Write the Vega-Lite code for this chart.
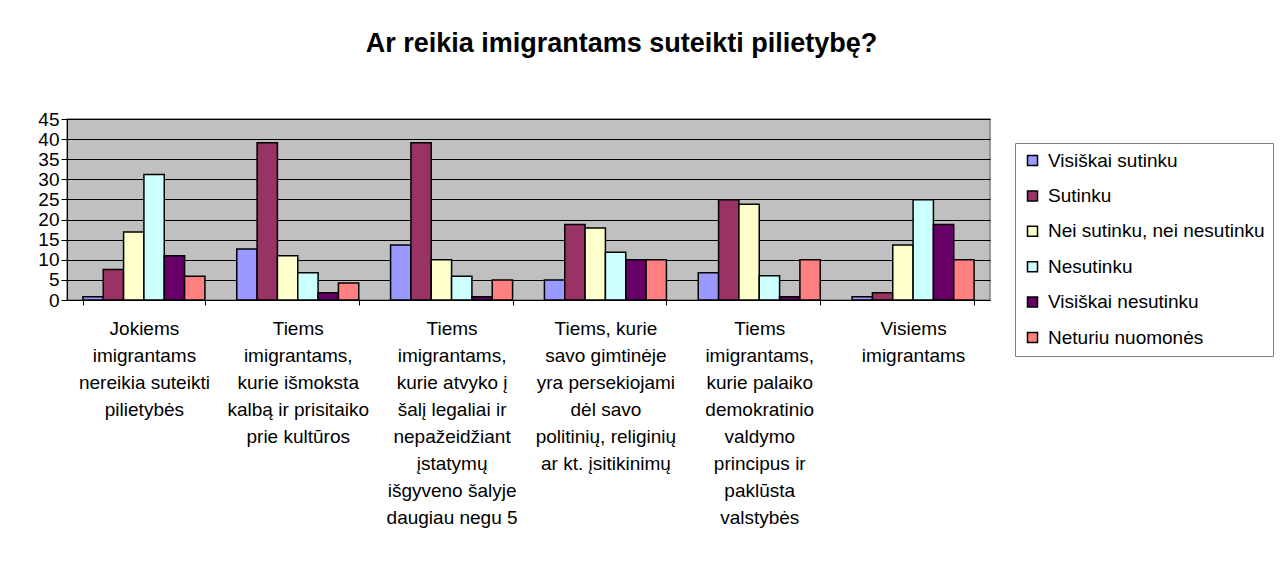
{
  "$schema": "https://vega.github.io/schema/vega-lite/v6.json",
  "autosize": {"type": "none"},
  "padding": {"left": 67, "top": 119, "right": 291, "bottom": 261},
  "width": 923,
  "height": 181,
  "background": "white",
  "title": {
    "text": "Ar reikia imigrantams suteikti pilietybę?",
    "font": "Liberation Sans",
    "fontSize": 27,
    "fontWeight": "bold",
    "color": "black",
    "anchor": "middle",
    "frame": "group",
    "dx": 93,
    "baseline": "alphabetic",
    "offset": 31
  },
  "data": {
    "values": [
      {"kategorija": "Jokiems\nimigrantams\nnereikia suteikti\npilietybės", "atsakymas": "Visiškai sutinku", "reiksme": 0.8},
      {"kategorija": "Jokiems\nimigrantams\nnereikia suteikti\npilietybės", "atsakymas": "Sutinku", "reiksme": 7.6},
      {"kategorija": "Jokiems\nimigrantams\nnereikia suteikti\npilietybės", "atsakymas": "Nei sutinku, nei nesutinku", "reiksme": 16.9},
      {"kategorija": "Jokiems\nimigrantams\nnereikia suteikti\npilietybės", "atsakymas": "Nesutinku", "reiksme": 31.2},
      {"kategorija": "Jokiems\nimigrantams\nnereikia suteikti\npilietybės", "atsakymas": "Visiškai nesutinku", "reiksme": 11.0},
      {"kategorija": "Jokiems\nimigrantams\nnereikia suteikti\npilietybės", "atsakymas": "Neturiu nuomonės", "reiksme": 5.9},
      {"kategorija": "Tiems\nimigrantams,\nkurie išmoksta\nkalbą ir prisitaiko\nprie kultūros", "atsakymas": "Visiškai sutinku", "reiksme": 12.7},
      {"kategorija": "Tiems\nimigrantams,\nkurie išmoksta\nkalbą ir prisitaiko\nprie kultūros", "atsakymas": "Sutinku", "reiksme": 39.1},
      {"kategorija": "Tiems\nimigrantams,\nkurie išmoksta\nkalbą ir prisitaiko\nprie kultūros", "atsakymas": "Nei sutinku, nei nesutinku", "reiksme": 11.0},
      {"kategorija": "Tiems\nimigrantams,\nkurie išmoksta\nkalbą ir prisitaiko\nprie kultūros", "atsakymas": "Nesutinku", "reiksme": 6.8},
      {"kategorija": "Tiems\nimigrantams,\nkurie išmoksta\nkalbą ir prisitaiko\nprie kultūros", "atsakymas": "Visiškai nesutinku", "reiksme": 1.8},
      {"kategorija": "Tiems\nimigrantams,\nkurie išmoksta\nkalbą ir prisitaiko\nprie kultūros", "atsakymas": "Neturiu nuomonės", "reiksme": 4.2},
      {"kategorija": "Tiems\nimigrantams,\nkurie atvyko į\nšalį legaliai ir\nnepažeidžiant\nįstatymų\nišgyveno šalyje\ndaugiau negu 5", "atsakymas": "Visiškai sutinku", "reiksme": 13.7},
      {"kategorija": "Tiems\nimigrantams,\nkurie atvyko į\nšalį legaliai ir\nnepažeidžiant\nįstatymų\nišgyveno šalyje\ndaugiau negu 5", "atsakymas": "Sutinku", "reiksme": 39.1},
      {"kategorija": "Tiems\nimigrantams,\nkurie atvyko į\nšalį legaliai ir\nnepažeidžiant\nįstatymų\nišgyveno šalyje\ndaugiau negu 5", "atsakymas": "Nei sutinku, nei nesutinku", "reiksme": 10.0},
      {"kategorija": "Tiems\nimigrantams,\nkurie atvyko į\nšalį legaliai ir\nnepažeidžiant\nįstatymų\nišgyveno šalyje\ndaugiau negu 5", "atsakymas": "Nesutinku", "reiksme": 5.9},
      {"kategorija": "Tiems\nimigrantams,\nkurie atvyko į\nšalį legaliai ir\nnepažeidžiant\nįstatymų\nišgyveno šalyje\ndaugiau negu 5", "atsakymas": "Visiškai nesutinku", "reiksme": 0.8},
      {"kategorija": "Tiems\nimigrantams,\nkurie atvyko į\nšalį legaliai ir\nnepažeidžiant\nįstatymų\nišgyveno šalyje\ndaugiau negu 5", "atsakymas": "Neturiu nuomonės", "reiksme": 5.0},
      {"kategorija": "Tiems, kurie\nsavo gimtinėje\nyra persekiojami\ndėl savo\npolitinių, religinių\nar kt. įsitikinimų", "atsakymas": "Visiškai sutinku", "reiksme": 5.0},
      {"kategorija": "Tiems, kurie\nsavo gimtinėje\nyra persekiojami\ndėl savo\npolitinių, religinių\nar kt. įsitikinimų", "atsakymas": "Sutinku", "reiksme": 18.8},
      {"kategorija": "Tiems, kurie\nsavo gimtinėje\nyra persekiojami\ndėl savo\npolitinių, religinių\nar kt. įsitikinimų", "atsakymas": "Nei sutinku, nei nesutinku", "reiksme": 17.9},
      {"kategorija": "Tiems, kurie\nsavo gimtinėje\nyra persekiojami\ndėl savo\npolitinių, religinių\nar kt. įsitikinimų", "atsakymas": "Nesutinku", "reiksme": 11.9},
      {"kategorija": "Tiems, kurie\nsavo gimtinėje\nyra persekiojami\ndėl savo\npolitinių, religinių\nar kt. įsitikinimų", "atsakymas": "Visiškai nesutinku", "reiksme": 10.0},
      {"kategorija": "Tiems, kurie\nsavo gimtinėje\nyra persekiojami\ndėl savo\npolitinių, religinių\nar kt. įsitikinimų", "atsakymas": "Neturiu nuomonės", "reiksme": 10.0},
      {"kategorija": "Tiems\nimigrantams,\nkurie palaiko\ndemokratinio\nvaldymo\nprincipus ir\npaklūsta\nvalstybės", "atsakymas": "Visiškai sutinku", "reiksme": 6.8},
      {"kategorija": "Tiems\nimigrantams,\nkurie palaiko\ndemokratinio\nvaldymo\nprincipus ir\npaklūsta\nvalstybės", "atsakymas": "Sutinku", "reiksme": 24.9},
      {"kategorija": "Tiems\nimigrantams,\nkurie palaiko\ndemokratinio\nvaldymo\nprincipus ir\npaklūsta\nvalstybės", "atsakymas": "Nei sutinku, nei nesutinku", "reiksme": 23.8},
      {"kategorija": "Tiems\nimigrantams,\nkurie palaiko\ndemokratinio\nvaldymo\nprincipus ir\npaklūsta\nvalstybės", "atsakymas": "Nesutinku", "reiksme": 6.0},
      {"kategorija": "Tiems\nimigrantams,\nkurie palaiko\ndemokratinio\nvaldymo\nprincipus ir\npaklūsta\nvalstybės", "atsakymas": "Visiškai nesutinku", "reiksme": 0.8},
      {"kategorija": "Tiems\nimigrantams,\nkurie palaiko\ndemokratinio\nvaldymo\nprincipus ir\npaklūsta\nvalstybės", "atsakymas": "Neturiu nuomonės", "reiksme": 10.0},
      {"kategorija": "Visiems\nimigrantams", "atsakymas": "Visiškai sutinku", "reiksme": 0.8},
      {"kategorija": "Visiems\nimigrantams", "atsakymas": "Sutinku", "reiksme": 1.8},
      {"kategorija": "Visiems\nimigrantams", "atsakymas": "Nei sutinku, nei nesutinku", "reiksme": 13.7},
      {"kategorija": "Visiems\nimigrantams", "atsakymas": "Nesutinku", "reiksme": 24.9},
      {"kategorija": "Visiems\nimigrantams", "atsakymas": "Visiškai nesutinku", "reiksme": 18.8},
      {"kategorija": "Visiems\nimigrantams", "atsakymas": "Neturiu nuomonės", "reiksme": 10.0}
    ]
  },
  "mark": {"type": "bar", "stroke": "black", "strokeWidth": 1.5, "opacity": 1},
  "encoding": {
    "x": {
      "field": "kategorija",
      "type": "nominal",
      "sort": null,
      "scale": {"paddingInner": 0.207, "paddingOuter": 0.1035},
      "axis": {
        "title": null,
        "labelAngle": 0,
        "labelExpr": "split(datum.label, '\\n')",
        "labelFont": "Liberation Sans",
        "labelFontSize": 19,
        "labelLineHeight": 27,
        "labelColor": "black",
        "labelBaseline": "top",
        "labelPadding": 14,
        "labelLimit": 300,
        "tickBand": "extent",
        "tickColor": "black",
        "tickSize": 5,
        "domainColor": "black",
        "domainWidth": 1,
        "grid": false
      }
    },
    "xOffset": {"field": "atsakymas", "type": "nominal", "sort": null, "scale": {"paddingInner": 0, "paddingOuter": 0}},
    "y": {
      "field": "reiksme",
      "type": "quantitative",
      "scale": {"domain": [0, 45], "nice": false},
      "axis": {
        "title": null,
        "values": [0, 5, 10, 15, 20, 25, 30, 35, 40, 45],
        "labelFont": "Liberation Sans",
        "labelFontSize": 19,
        "labelColor": "black",
        "labelPadding": 2,
        "tickColor": "black",
        "tickSize": 6,
        "domainColor": "black",
        "gridColor": "black",
        "gridWidth": 1,
        "gridOpacity": 1
      }
    },
    "color": {
      "field": "atsakymas",
      "type": "nominal",
      "sort": null,
      "scale": {
        "domain": ["Visiškai sutinku", "Sutinku", "Nei sutinku, nei nesutinku", "Nesutinku", "Visiškai nesutinku", "Neturiu nuomonės"],
        "range": ["#9999FF", "#993366", "#FFFFCC", "#CCFFFF", "#660066", "#FF8080"]
      },
      "legend": {
        "title": null,
        "orient": "none",
        "legendX": 948,
        "legendY": 24,
        "strokeColor": "#808080",
        "fillColor": "white",
        "padding": 8,
        "rowPadding": 15.4,
        "symbolType": "square",
        "symbolSize": 100,
        "symbolStrokeColor": "black",
        "symbolStrokeWidth": 1.5,
        "symbolOpacity": 1,
        "labelFont": "Liberation Sans",
        "labelFontSize": 19,
        "labelColor": "black",
        "labelOffset": 6,
        "labelLimit": 300
      }
    }
  },
  "config": {
    "view": {"fill": "#C0C0C0", "stroke": "#808080", "strokeWidth": 1.5}
  }
}
